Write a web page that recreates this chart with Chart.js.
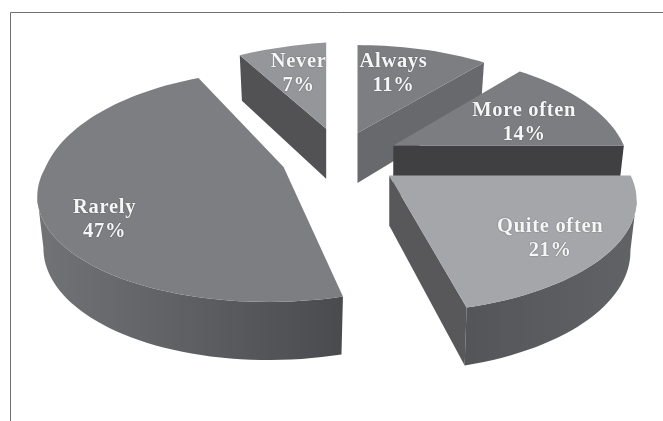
<!DOCTYPE html>
<html>
<head>
<meta charset="utf-8">
<style>html,body{margin:0;padding:0;background:#fff}canvas{display:block}</style>
<script src="https://cdn.jsdelivr.net/npm/chart.js@4/dist/chart.umd.js"></script>
</head>
<body>
<canvas id="pie" width="663" height="421"></canvas>
<script>
// Answer shares, clockwise from twelve o'clock
const categories = ['Always', 'More often', 'Quite often', 'Rarely', 'Never'];
const shares = [11, 14, 21, 47, 7];

// Slice styling
const explode = [33, 35, 35, 35, 39];
const topColors = ['#7d7e82', '#7c7d81', '#a5a6aa', '#7d7e82', '#95969a'];
const wallColors = ['#68696c', '#404043', '#58585b', '#5a5b5e', '#525255'];
const rimStops = [
  ['#68696c', '#68696c'],
  ['#58585b', '#58585b'],
  ['#545558', '#626366'],
  ['#727376', '#4a4b4e'],
  ['#525255', '#525255']
];
// Label centres relative to each slice's apex
const labelShift = [[36, -59], [131, -23], [161, 63.5], [-179, 52.5], [-27.5, -55]];

// 3D look: tilted disc seen in perspective, extruded downward
const view = { rx: 241.5, ry: 106.5, tilt: 0.21, depth: 50, floorX: 0.975, floorY: 1.06, step: Math.PI / 90 };

// Per-slice lens corrections: apex nudge, scale, and shear of the face
const lens = [
  { dx: -2, dy: -1, sx: 0.955, sy: 1, shear: 0, lift: 0, back: 1 },
  { dx: -2, dy: -1, sx: 0.955, sy: 1.05, shear: 0, lift: 0, back: 1 },
  { dx: 1, dy: 1, sx: 1, sy: 1.02, shear: 0.015, lift: 0, back: 1 },
  { dx: 1, dy: 0, sx: 0.985, sy: 1, shear: -0.115, lift: 0, back: 1.1 },
  { dx: 1, dy: 0, sx: 1, sy: 0.98, shear: 0, lift: -0.067, back: 1 }
];

const pie3d = {
  id: 'pie3d',
  beforeDraw(chart) {
    // Open frame: top and left rules only
    const c = chart.ctx;
    c.save();
    c.strokeStyle = '#6f6f6f';
    c.lineWidth = 1;
    c.beginPath();
    c.moveTo(10.5, chart.height);
    c.lineTo(10.5, 12.5);
    c.lineTo(chart.width, 12.5);
    c.stroke();
    c.restore();
  },
  beforeDatasetsDraw(chart) {
    const c = chart.ctx;
    const arcs = chart.getDatasetMeta(0).data;
    arcs.forEach((arc, i) => drawSlice(c, arc, i));
    c.save();
    c.fillStyle = '#f6f6f6';
    c.textAlign = 'center';
    c.textBaseline = 'middle';
    c.font = 'bold 20.5px "Liberation Serif"';
    c.letterSpacing = '0.7px';
    c.shadowColor = 'rgba(40,40,40,0.6)';
    c.shadowBlur = 1.5;
    arcs.forEach((arc, i) => {
      const a = apexOf(arc, i);
      const x = a.x + labelShift[i][0], y = a.y + labelShift[i][1];
      c.fillText(categories[i], x, y - 12);
      c.fillText(shares[i] + '%', x, y + 12);
    });
    c.restore();
    return false; // the extruded slices replace the flat arcs
  }
};

function apexOf(arc, i) {
  const mid = (arc.startAngle + arc.endAngle) / 2;
  const o = arc.options.offset / arc.outerRadius;
  const u = o * Math.cos(mid), v = -o * Math.sin(mid);
  return { x: arc.x + view.rx * u + lens[i].dx, y: arc.y - view.ry * v + lens[i].dy };
}

function drawSlice(c, arc, i) {
  const apex = apexOf(arc, i);
  const l = lens[i];
  const top = a => {
    const u = Math.cos(a), v = -Math.sin(a), w = 1 + view.tilt * v;
    let X = l.sx * view.rx * u / w;
    let Y = -l.sy * view.ry * v / w;
    if (Y > 0) X += l.shear * Y; else Y *= l.back;
    Y += l.lift * X;
    return { x: apex.x + X, y: apex.y + Y };
  };
  const drop = p => ({
    x: apex.x + (p.x - apex.x) * view.floorX,
    y: apex.y + view.depth + (p.y - apex.y) * view.floorY
  });
  const n = Math.max(2, Math.ceil((arc.endAngle - arc.startAngle) / view.step));
  const rim = [];
  for (let k = 0; k <= n; k++) {
    rim.push(top(arc.startAngle + (arc.endAngle - arc.startAngle) * k / n));
  }
  const inner = rim[Math.floor(n / 2)];
  const side = p => Math.sign((p.x - apex.x) * (inner.y - apex.y) - (p.y - apex.y) * (inner.x - apex.x));
  const quad = (a, b, fill) => {
    const a2 = drop(a), b2 = drop(b);
    c.fillStyle = fill;
    c.beginPath();
    c.moveTo(a.x, a.y);
    c.lineTo(b.x, b.y);
    c.lineTo(b2.x, b2.y);
    c.lineTo(a2.x, a2.y);
    c.closePath();
    c.fill();
  };
  // Radial walls whose outer face turns toward the viewer
  [rim[0], rim[n]].forEach(p => {
    const dir = p.x - apex.x;
    if (dir !== 0 && side(p) === -Math.sign(dir)) quad(apex, p, wallColors[i]);
  });
  // Front-facing stretch of the curved edge: on-screen travel is leftward there
  const front = [];
  for (let k = 0; k < n; k++) {
    if (rim[k + 1].x < rim[k].x) {
      if (!front.length) front.push(rim[k]);
      front.push(rim[k + 1]);
    }
  }
  if (front.length > 1) {
    const xs = front.map(p => p.x);
    const g = c.createLinearGradient(Math.min(...xs), 0, Math.max(...xs), 0);
    g.addColorStop(0, rimStops[i][0]);
    g.addColorStop(1, rimStops[i][1]);
    c.fillStyle = g;
    c.beginPath();
    front.forEach((p, k) => (k ? c.lineTo(p.x, p.y) : c.moveTo(p.x, p.y)));
    front.slice().reverse().forEach(p => { const d = drop(p); c.lineTo(d.x, d.y); });
    c.closePath();
    c.fill();
  }
  // Top face
  c.fillStyle = arc.options.backgroundColor;
  c.beginPath();
  c.moveTo(apex.x, apex.y);
  rim.forEach(p => c.lineTo(p.x, p.y));
  c.closePath();
  c.fill();
}

new Chart(document.getElementById('pie'), {
  type: 'pie',
  data: {
    labels: categories,
    datasets: [{ data: shares, backgroundColor: topColors, borderWidth: 0, offset: explode }]
  },
  options: {
    responsive: false,
    animation: false,
    layout: { padding: { left: 17, right: 0, top: 0, bottom: 105 } },
    plugins: { legend: { display: false }, tooltip: { enabled: false } }
  },
  plugins: [pie3d]
});
</script>
</body>
</html>
